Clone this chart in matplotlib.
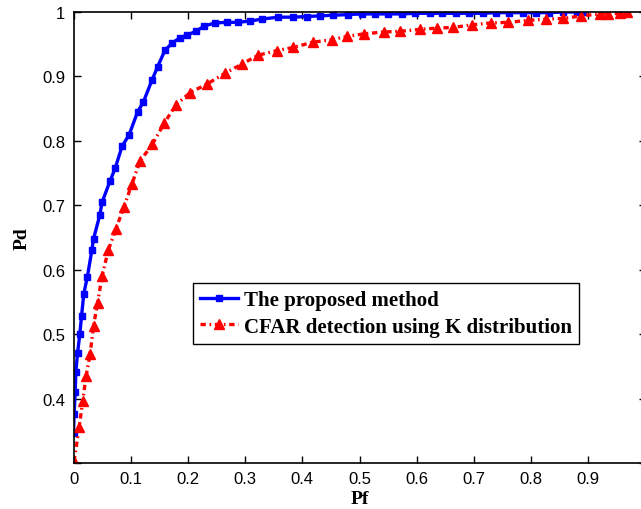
import numpy as np
import matplotlib
matplotlib.use("Agg")
import matplotlib.pyplot as plt

# proposed method (blue squares)
pf_prop = [0.000, 0.001, 0.003, 0.004, 0.007, 0.011, 0.014, 0.018, 0.024, 0.032,
           0.035, 0.046, 0.050, 0.064, 0.073, 0.085, 0.097, 0.112, 0.122, 0.137,
           0.147, 0.160, 0.173, 0.186, 0.198, 0.214, 0.228, 0.247, 0.268, 0.288,
           0.309, 0.329, 0.358, 0.384, 0.408, 0.431, 0.454, 0.480, 0.504, 0.527,
           0.550, 0.574, 0.597, 0.623, 0.645, 0.669, 0.691, 0.715, 0.739, 0.761,
           0.785, 0.809, 0.831, 0.856, 0.880, 0.891]
pd_prop = [0.347, 0.376, 0.410, 0.441, 0.470, 0.500, 0.528, 0.563, 0.588, 0.630,
           0.648, 0.685, 0.705, 0.738, 0.758, 0.792, 0.809, 0.845, 0.860, 0.894,
           0.915, 0.941, 0.952, 0.960, 0.964, 0.970, 0.978, 0.983, 0.984, 0.984,
           0.986, 0.989, 0.992, 0.992, 0.993, 0.994, 0.995, 0.996, 0.997, 0.997,
           0.997, 0.997, 0.998, 0.998, 0.998, 0.998, 0.998, 0.998, 0.999, 0.999,
           0.999, 0.999, 0.999, 1.000, 1.000, 1.000]

# CFAR with K distribution (red triangles)
pf_cfar = [0.001, 0.010, 0.016, 0.022, 0.029, 0.035, 0.042, 0.050, 0.061, 0.074,
           0.088, 0.102, 0.116, 0.138, 0.159, 0.179, 0.204, 0.233, 0.265, 0.294,
           0.323, 0.355, 0.384, 0.418, 0.451, 0.478, 0.507, 0.542, 0.571, 0.605,
           0.635, 0.664, 0.696, 0.729, 0.760, 0.795, 0.826, 0.856, 0.888, 0.920,
           0.935, 0.955, 0.967]
pd_cfar = [0.303, 0.356, 0.396, 0.435, 0.469, 0.513, 0.548, 0.591, 0.631, 0.663,
           0.697, 0.733, 0.768, 0.795, 0.828, 0.856, 0.875, 0.888, 0.905, 0.919,
           0.933, 0.940, 0.945, 0.953, 0.957, 0.962, 0.966, 0.969, 0.970, 0.973,
           0.975, 0.976, 0.980, 0.983, 0.984, 0.987, 0.989, 0.990, 0.994, 0.997,
           0.997, 0.998, 1.000]

fig = plt.figure(figsize=(6.41, 5.10), dpi=100)
ax = fig.add_axes([0.1147, 0.0902, 0.8924, 0.8843])

ax.plot(pf_prop, pd_prop, color=(0, 0, 1), linestyle='-', linewidth=2.4,
        marker='s', markersize=4.2, label="The proposed method")
ax.plot(pf_cfar, pd_cfar, color=(1, 0, 0), linestyle=(0, (1.6, 1.1, 0.5, 1.1)),
        linewidth=2.4, marker='^', markersize=6.5, label="CFAR detection using K distribution")

ax.set_xlim(0, 1)
ax.set_ylim(0.3, 1)
ax.set_xticks(np.arange(0, 1.0, 0.1))
ax.set_xticklabels(["0", "0.1", "0.2", "0.3", "0.4", "0.5", "0.6", "0.7", "0.8", "0.9"])
ax.set_yticks(np.arange(0.3, 1.01, 0.1))
ax.set_yticklabels(["", "0.4", "0.5", "0.6", "0.7", "0.8", "0.9", "1"])
ax.tick_params(direction='in', top=True, right=True, length=5, width=1,
               labelsize=12, pad=6)
for lab in ax.get_xticklabels() + ax.get_yticklabels():
    lab.set_family("Liberation Sans")
for sp in ax.spines.values():
    sp.set_linewidth(1.2)

ax.set_xlabel("Pf", fontsize=14, fontweight='bold', family="Liberation Serif", labelpad=3)
ax.set_ylabel("Pd", fontsize=14, fontweight='bold', family="Liberation Serif", labelpad=8)

leg = ax.legend(loc='lower left', bbox_to_anchor=(0.209, 0.264), fancybox=False,
                edgecolor='black', framealpha=1, handlelength=1.8, borderpad=0.35,
                labelspacing=0.3, handletextpad=0.3, borderaxespad=0,
                prop={'family': 'Liberation Serif', 'weight': 'bold', 'size': 15})
leg.get_frame().set_linewidth(1.0)

fig.savefig("out.png", dpi=100)
